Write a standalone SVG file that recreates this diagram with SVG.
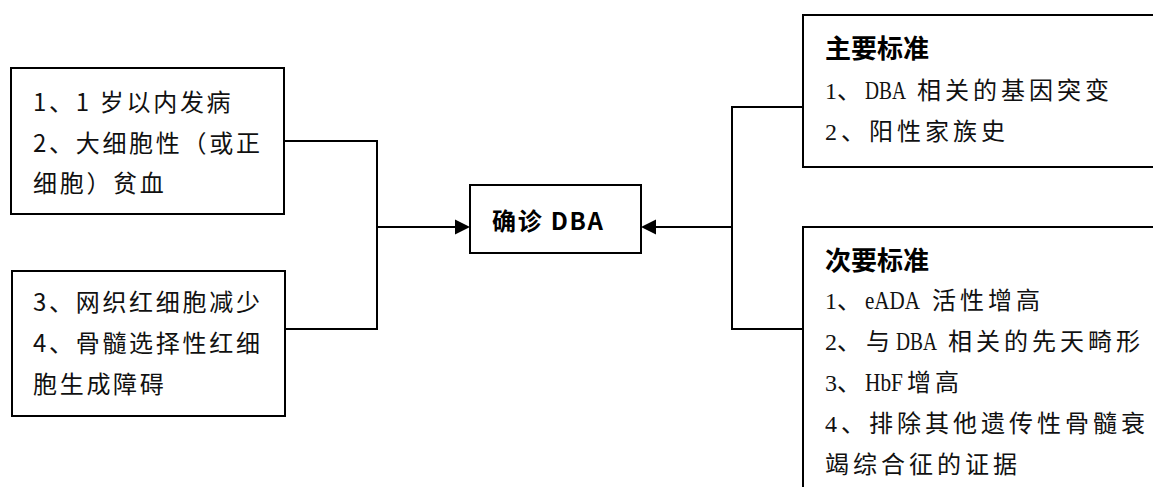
<svg xmlns="http://www.w3.org/2000/svg" width="1153" height="487" viewBox="0 0 1153 487">
<style>
.box{fill:#fff;stroke:#000;stroke-width:2}
.ln{fill:none;stroke:#000;stroke-width:2}
.lt{font-family:"Noto Sans CJK SC",sans-serif;font-size:24px;letter-spacing:2.7px;fill:#111}
.rt{font-family:"Liberation Serif","Noto Sans CJK SC",serif;font-size:24px;letter-spacing:4px;fill:#111}
.nl{letter-spacing:0}
.lat{letter-spacing:0;font-size:26px}
.hd{font-family:"Noto Sans CJK SC",sans-serif;font-size:26px;font-weight:bold;fill:#000}
.ct{font-family:"Noto Sans CJK SC",sans-serif;font-size:24px;font-weight:bold;fill:#000}
</style>
<g id="connectors">
<path class="ln" d="M284 141 H377 V329 H285"/>
<path class="ln" d="M377 227 H456"/>
<polygon points="470,227 455,219.5 455,234.5" fill="#000"/>
<path class="ln" d="M803 107 H732 V329 H803"/>
<path class="ln" d="M732 227 H655"/>
<polygon points="641,227 656,219.5 656,234.5" fill="#000"/>
</g>
<g id="node-left-top">
<rect class="box" x="11" y="68" width="273" height="146"/>
<text class="lt" x="33" y="111">1、1 岁以内发病</text>
<text class="lt" x="33" y="152">2、大细胞性（或正</text>
<text class="lt" x="33" y="192">细胞）贫血</text>
</g>
<g id="node-left-bottom">
<rect class="box" x="12" y="271" width="273" height="145"/>
<text class="lt" x="33" y="311">3、网织红细胞减少</text>
<text class="lt" x="33" y="352">4、骨髓选择性红细</text>
<text class="lt" x="33" y="393">胞生成障碍</text>
</g>
<g id="node-center">
<rect class="box" x="470" y="185" width="171" height="68"/>
<text class="ct" x="492" y="230" textLength="111" lengthAdjust="spacing">确诊 DBA</text>
</g>
<g id="node-major">
<rect class="box" x="803" y="15" width="360" height="152"/>
<text class="hd" x="825" y="58">主要标准</text>
<text class="rt" x="825" y="99"><tspan class="nl">1、</tspan><tspan class="lat" x="865" textLength="41" lengthAdjust="spacingAndGlyphs">DBA</tspan><tspan x="917">相关的基因突变</tspan></text>
<text class="rt" x="825" y="140">2、阳性家族史</text>
</g>
<g id="node-minor">
<rect class="box" x="803" y="227" width="360" height="280"/>
<text class="hd" x="825" y="270">次要标准</text>
<text class="rt" x="825" y="309"><tspan class="nl">1、</tspan><tspan class="lat" x="865" textLength="55" lengthAdjust="spacingAndGlyphs">eADA</tspan><tspan x="932">活性增高</tspan></text>
<text class="rt" x="825" y="350"><tspan class="nl">2、</tspan><tspan x="866">与</tspan><tspan class="lat" x="896" textLength="41" lengthAdjust="spacingAndGlyphs">DBA</tspan><tspan x="948">相关的先天畸形</tspan></text>
<text class="rt" x="825" y="391"><tspan class="nl">3、</tspan><tspan class="lat" x="865" textLength="38" lengthAdjust="spacingAndGlyphs">HbF</tspan><tspan x="907">增高</tspan></text>
<text class="rt" x="825" y="432">4、排除其他遗传性骨髓衰</text>
<text class="rt" x="825" y="473">竭综合征的证据</text>
</g>
</svg>
